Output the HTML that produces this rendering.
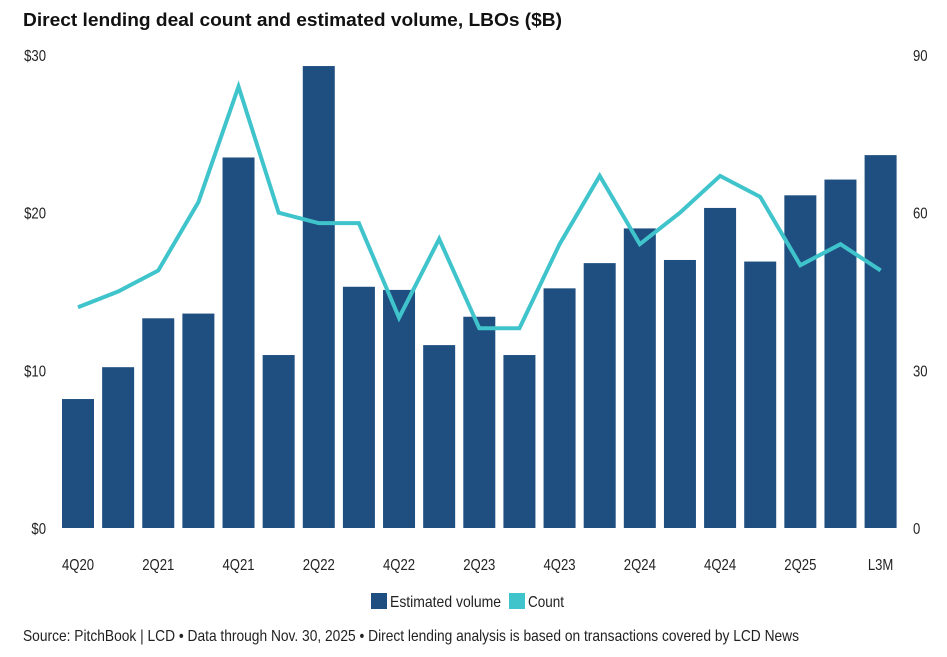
<!DOCTYPE html>
<html lang="en">
<head>
<meta charset="utf-8">
<title>Direct lending deal count and estimated volume, LBOs ($B)</title>
<style>
html,body{margin:0;padding:0;background:#fff;width:947px;height:657px;overflow:hidden}
svg{display:block}
text{font-family:"Liberation Sans",sans-serif;fill:#222;font-size:16px}
</style>
</head>
<body>
<svg id="chart" width="947" height="657" viewBox="0 0 947 657" xmlns="http://www.w3.org/2000/svg">
<text x="23" y="26" textLength="539" lengthAdjust="spacingAndGlyphs" style="font-size:18.5px;font-weight:bold;fill:#111">Direct lending deal count and estimated volume, LBOs ($B)</text>
<g id="bars"></g>
<g id="line"></g>
<g id="axes"></g>
<g>
<rect x="371" y="593" width="16" height="16" fill="#1f4f81"></rect>
<text x="390" y="607" textLength="111" lengthAdjust="spacingAndGlyphs">Estimated volume</text>
<rect x="509" y="593" width="16" height="16" fill="#40c4cc"></rect>
<text x="528" y="607" textLength="36" lengthAdjust="spacingAndGlyphs">Count</text>
</g>
<text x="23" y="641" textLength="776" lengthAdjust="spacingAndGlyphs">Source: PitchBook | LCD • Data through Nov. 30, 2025 • Direct lending analysis is based on transactions covered by LCD News</text>
</svg>
<script>
const categories = ["4Q20","1Q21","2Q21","3Q21","4Q21","1Q22","2Q22","3Q22","4Q22","1Q23","2Q23","3Q23","4Q23","1Q24","2Q24","3Q24","4Q24","1Q25","2Q25","3Q25","L3M"];
const volumeValues = [8.18,10.2,13.3,13.6,23.5,10.97,29.3,15.3,15.1,11.6,13.4,10.97,15.2,16.8,19.0,17.0,20.3,16.9,21.1,22.1,23.65];
const countValues = [42,45,49,62,84,60,58,58,40,55,38,38,54,67,54,60,67,63,50,54,49];
const leftTicks = [0,10,20,30];
const rightTicks = [0,30,60,90];

const NS = 'http://www.w3.org/2000/svg';
const plotBottom = 528, plotTop = 55, firstX = 78, stepX = 40.13, barWidth = 32;
const xScale = function(i){ return firstX + i * stepX; };
const yLeft = function(v){ return plotBottom - (v / 30) * (plotBottom - plotTop); };
const yRight = function(v){ return plotBottom - (v / 90) * (plotBottom - plotTop); };

function addText(parent, str, x, y, anchor){
  const t = document.createElementNS(NS, 'text');
  t.textContent = str;
  t.setAttribute('x', x);
  t.setAttribute('y', y);
  t.setAttribute('text-anchor', anchor);
  parent.appendChild(t);
  t.setAttribute('textLength', (t.getComputedTextLength() * 0.82).toFixed(1));
  t.setAttribute('lengthAdjust', 'spacingAndGlyphs');
  return t;
}

const barsG = document.getElementById('bars');
volumeValues.forEach(function(v, i){
  const r = document.createElementNS(NS, 'rect');
  
  
  r.setAttribute('x', (xScale(i) - barWidth / 2).toFixed(2));
  r.setAttribute('y', yLeft(v).toFixed(2));
  r.setAttribute('width', barWidth);
  r.setAttribute('height', (plotBottom - yLeft(v)).toFixed(2));
  r.setAttribute('fill', '#1f4f81');
  barsG.appendChild(r);
});

const lineG = document.getElementById('line');
const poly = document.createElementNS(NS, 'polyline');


poly.setAttribute('points', countValues.map(function(v, i){ return xScale(i).toFixed(2) + ',' + yRight(v).toFixed(2); }).join(' '));
poly.setAttribute('fill', 'none');
poly.setAttribute('stroke', '#40c4cc');
poly.setAttribute('stroke-width', '4');
poly.setAttribute('stroke-linejoin', 'miter');
lineG.appendChild(poly);

const axesG = document.getElementById('axes');
leftTicks.forEach(function(v){
  const t = addText(axesG, '$' + v, 46, yLeft(v) + 6, 'end');
  
  
});
rightTicks.forEach(function(v){
  const t = addText(axesG, String(v), 913, yRight(v) + 6, 'start');
  
  
});
categories.forEach(function(c, i){
  if (i % 2 !== 0) return;
  const t = addText(axesG, c, xScale(i), 570, 'middle');
  
  
});
</script>
</body>
</html>
